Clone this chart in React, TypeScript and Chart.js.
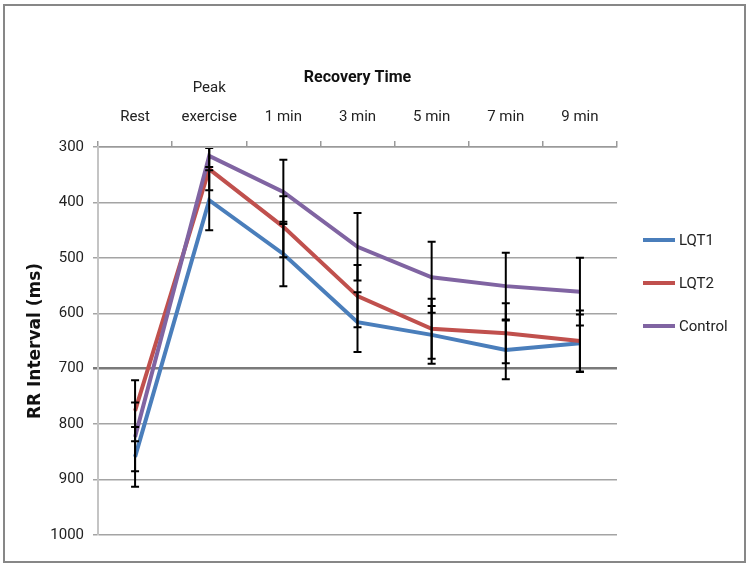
import React, { useEffect, useRef } from "react";
import { Chart, registerables } from "chart.js";

Chart.register(...registerables);

const categories: (string | string[])[] = ["Rest", ["Peak", "exercise"], "1 min", "3 min", "5 min", "7 min", "9 min"];
const seriesNames = ["LQT1", "LQT2", "Control"];
const lqt1 = [859, 396, 493, 616, 639, 666, 654];
const lqt2 = [776, 340, 444, 569, 628, 636, 650];
const control = [823, 316, 381, 480, 535, 551, 561];
const lqt1Err = [54, 54, 58, 54, 52, 53, 52];
const lqt2Err = [55, 38, 55, 56, 54, 54, 55];
const controlErr = [62, 20, 58, 61, 64, 60, 61];
const colors = ["#4a7ebb", "#c0504d", "#8064a2"];
const xTitle = "Recovery Time";
const yTitle = "RR Interval (ms)";

const tickFont = "Roboto, sans-serif";

const errorBarPlugin = {
  id: "errorBars",
  afterDatasetsDraw(chart: any) {
    const { ctx, chartArea, scales } = chart;
    const x = scales.x;
    const y = scales.y;
    ctx.save();
    ctx.beginPath();
    ctx.rect(chartArea.left, chartArea.top + 1, chartArea.right - chartArea.left, chartArea.bottom - chartArea.top);
    ctx.clip();
    ctx.strokeStyle = "#000";
    ctx.lineWidth = 2;
    chart.data.datasets.forEach((ds: any) => {
      const errs: number[] = ds.errors || [];
      ds.data.forEach((v: number, i: number) => {
        const e = errs[i];
        if (e == null) return;
        const px = x.getPixelForValue(i);
        const y1 = y.getPixelForValue(v - e);
        const y2 = y.getPixelForValue(v + e);
        ctx.beginPath();
        ctx.moveTo(px, y1);
        ctx.lineTo(px, y2);
        ctx.moveTo(px - 4, y1);
        ctx.lineTo(px + 4, y1);
        ctx.moveTo(px - 4, y2);
        ctx.lineTo(px + 4, y2);
        ctx.stroke();
      });
    });
    ctx.restore();
  },
};

const framePlugin = {
  id: "frame",
  beforeDraw(chart: any) {
    const { ctx, width, height } = chart;
    ctx.save();
    ctx.fillStyle = "#fff";
    ctx.fillRect(0, 0, width, height);
    ctx.strokeStyle = "#878787";
    ctx.lineWidth = 2;
    ctx.strokeRect(4, 5, width - 9, height - 9);
    ctx.restore();
  },
};

const legendPlugin = {
  id: "customLegend",
  afterDraw(chart: any) {
    const { ctx, chartArea, height } = chart;
    ctx.save();
    ctx.font = `15px ${tickFont}`;
    ctx.textBaseline = "middle";
    ctx.textAlign = "left";
    chart.data.datasets.forEach((ds: any, i: number) => {
      const yy = height / 2 + (i - 1) * 43;
      ctx.strokeStyle = ds.borderColor;
      ctx.lineWidth = 4;
      ctx.beginPath();
      ctx.moveTo(chartArea.right + 26, yy);
      ctx.lineTo(chartArea.right + 58, yy);
      ctx.stroke();
      ctx.fillStyle = "#222";
      ctx.fillText(ds.label, chartArea.right + 62, yy + 1);
    });
    ctx.restore();
  },
};

export default function App() {
  const ref = useRef<HTMLCanvasElement>(null);
  useEffect(() => {
    if (!ref.current) return;
    const values = [lqt1, lqt2, control];
    const errs = [lqt1Err, lqt2Err, controlErr];
    const chart = new Chart(ref.current, {
      type: "line",
      data: {
        labels: categories as any,
        datasets: seriesNames.map((name, i) => ({
          label: name,
          data: values[i],
          errors: errs[i],
          borderColor: colors[i],
          backgroundColor: colors[i],
          borderWidth: 4,
          pointRadius: 0,
          tension: 0,
          fill: false,
          order: 2 - i,
        })) as any,
      },
      options: {
        responsive: false,
        animation: false,
        layout: { padding: { left: 0, top: 0, right: 133, bottom: 31 } },
        plugins: { legend: { display: false }, tooltip: { enabled: false } },
        scales: {
          x: {
            type: "category",
            position: "top",
            offset: true,
            afterFit: (s: any) => { s.height = 147; },
            grid: { offset: true, drawOnChartArea: false, drawTicks: true, tickLength: 6, color: "#9a9a9a", lineWidth: 1.5 },
            border: { display: true, color: "#9a9a9a", width: 1.5 },
            ticks: { color: "#222", padding: 9, maxRotation: 0, autoSkip: false, font: { family: tickFont, size: 15, lineHeight: 1.95 } },
            title: { display: true, text: xTitle, color: "#111", padding: { top: 68, bottom: 0 }, font: { family: tickFont, size: 16, weight: "bold" } },
          },
          y: {
            reverse: true,
            min: 300,
            max: 1000,
            afterFit: (s: any) => { s.width = 98; },
            ticks: { stepSize: 100, color: "#222", padding: 9, font: { family: tickFont, size: 15 }, callback: (v: any) => String(v) },
            grid: {
              drawTicks: true,
              tickLength: 5,
              color: (c: any) => (c.tick && c.tick.value === 700 ? "#7a7a7a" : "#a4a4a4"),
              lineWidth: (c: any) => (c.tick && c.tick.value === 700 ? 2.5 : 1.5),
            },
            border: { display: true, color: "#c4c4c4", width: 2 },
            title: { display: true, text: yTitle, color: "#111", padding: { top: 25, bottom: 0 }, font: { family: "'DejaVu Sans', sans-serif", size: 17, weight: "bold" } },
          },
        },
      } as any,
      plugins: [framePlugin, errorBarPlugin, legendPlugin],
    });
    return () => chart.destroy();
  }, []);
  return (
    <div style={{ position: "fixed", left: 0, top: 0, width: 750, height: 566, background: "#fff" }}>
      <canvas ref={ref} width={750} height={566} style={{ display: "block" }} />
    </div>
  );
}
